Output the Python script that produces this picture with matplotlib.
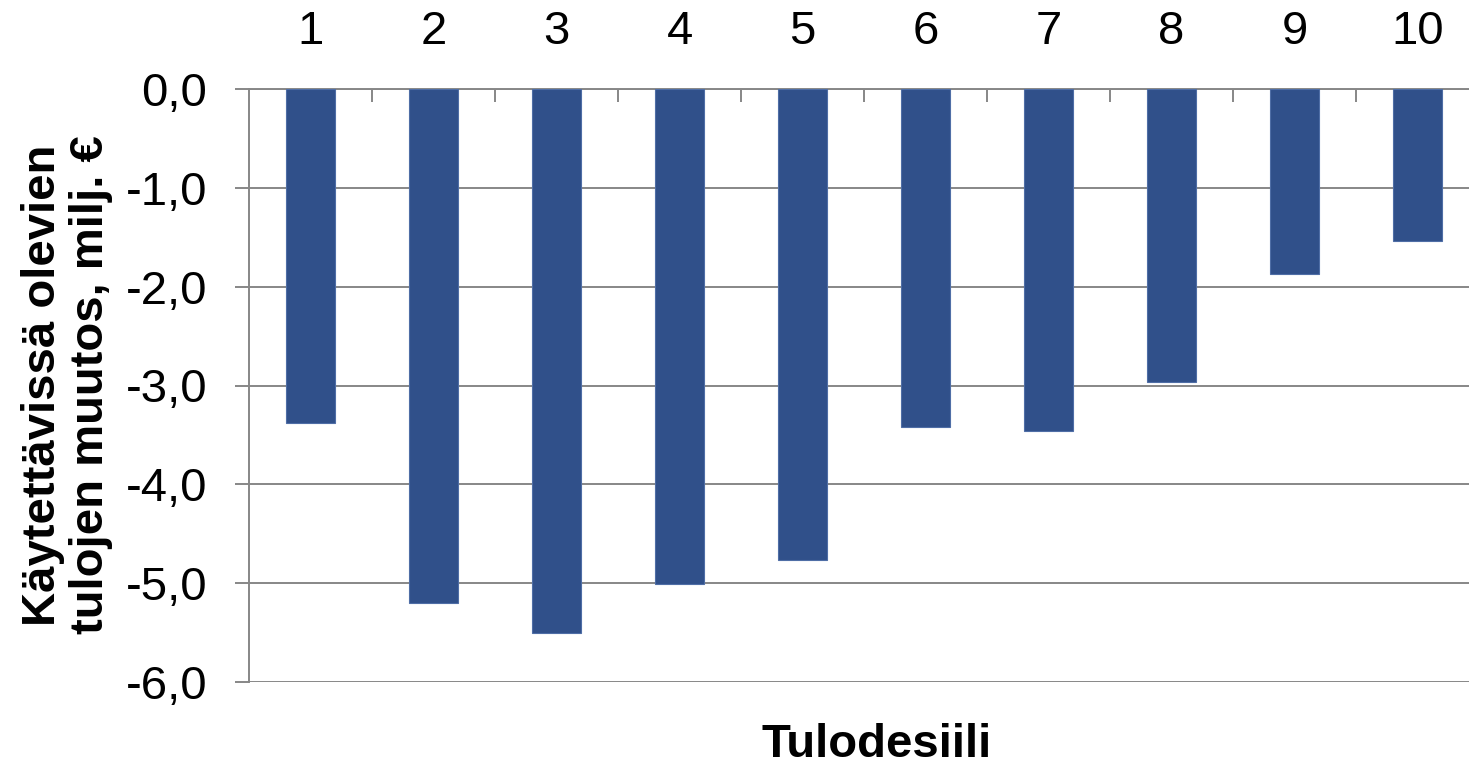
import matplotlib
matplotlib.use('Agg')
import matplotlib.pyplot as plt
from matplotlib.ticker import FixedLocator

plt.rcParams['font.family'] = ['Liberation Sans', 'DejaVu Sans']

# tulodesiilit ja kaytettavissa olevien tulojen muutos (milj. €)
desiilit = [1, 2, 3, 4, 5, 6, 7, 8, 9, 10]
muutos = [-3.38, -5.20, -5.50, -5.01, -4.77, -3.42, -3.46, -2.96, -1.87, -1.54]
y_ticks = [0, -1, -2, -3, -4, -5, -6]

BAR = '#30508A'
GRID = '#878787'

fig = plt.figure(figsize=(14.69, 7.65), dpi=100)
W, H = 1469, 765
# plot-alue jatkuu hieman kuvan oikean reunan yli kuten alkuperaisessa
ax = fig.add_axes([249 / W, 1 - 682 / H, (1479 - 249) / W, (682 - 89) / H])

x = list(range(len(desiilit)))
ax.bar(x, muutos, width=0.4, color=BAR, edgecolor='#4F6EA6', linewidth=0.8, zorder=3)

ax.set_xlim(-0.5, len(desiilit) - 0.5)
ax.set_ylim(-6, 0)

# vaakaviivat joka kokonaisluvulla
ax.set_yticks(y_ticks)
ax.set_yticklabels([f'{v:.1f}'.replace('.', ',') for v in y_ticks])
ax.yaxis.grid(True, color=GRID, linewidth=1.4, zorder=0)
ax.tick_params(axis='y', direction='out', length=10, width=1.4, color=GRID,
               pad=20, labelsize=34)

# x-akseli ylhaalla, luokkarajoilla sisaanpain osoittavat merkit
ax.xaxis.tick_top()
ax.set_xticks(x)
ax.set_xticklabels([str(d) for d in desiilit])
ax.tick_params(axis='x', which='major', length=0, pad=25, labelsize=34)
ax.xaxis.set_minor_locator(FixedLocator([i + 0.5 for i in x]))
ax.tick_params(axis='x', which='minor', direction='in', length=9.5, width=1.4,
               color=GRID, top=True, bottom=False)

for s in ['right', 'bottom']:
    ax.spines[s].set_visible(False)
for s in ['left', 'top']:
    ax.spines[s].set_color(GRID)
    ax.spines[s].set_linewidth(1.4)

fig.text(877 / W, 1 - 757 / H, 'Tulodesiili', ha='center', va='baseline',
         fontsize=34, fontweight='bold')
fig.text(67 / W, 1 - 385 / H, 'Käytettävissä olevien\ntulojen muutos, milj. €',
         ha='center', va='center', rotation=90, fontsize=34, fontweight='bold',
         linespacing=1.12)

fig.savefig('out.png', dpi=100)
